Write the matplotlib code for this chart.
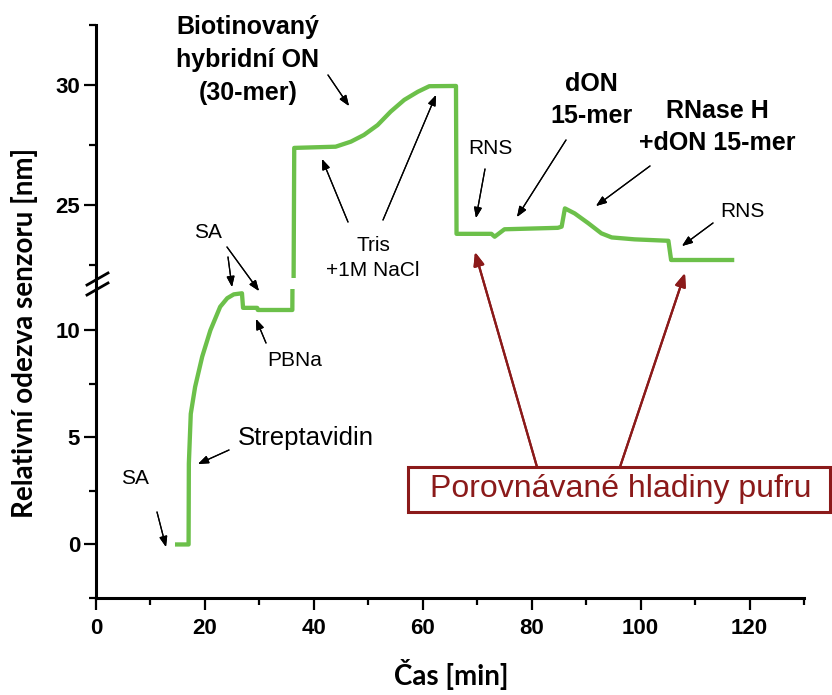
import matplotlib.pyplot as plt
from matplotlib.patches import Rectangle
from matplotlib.lines import Line2D

# sensor response over time (one continuous trace, split by the broken y axis)
cas = [14.9, 17.0, 17.05, 17.4, 18.2, 19.5, 21.0, 22.8, 24.1, 25.3, 26.8, 27.0,
       29.6, 29.7, 36.05, 36.4, 44.0, 46.8, 49.2, 51.7, 54.1, 56.6, 59.1, 61.2, 66.1, 66.2,
       72.6, 73.2, 75.0, 84.8, 85.5, 86.1, 87.9, 90.4, 92.8, 94.7, 98.9, 105.1, 105.6, 116.8]
odezva = [0.0, 0.0, 3.78, 6.1, 7.36, 8.77, 10.0, 11.1, 11.5, 11.68, 11.73, 11.05,
          11.05, 10.95, 10.95, 27.38, 27.43, 27.64, 27.92, 28.33, 28.89, 29.38, 29.72, 29.95, 29.96, 23.8,
          23.8, 23.68, 23.99, 24.05, 24.1, 24.86, 24.65, 24.24, 23.82, 23.65, 23.57, 23.51, 22.71, 22.71]

W, H = 832, 695
green = '#6cc04a'
dred = '#8b1a1a'

def fp(x, y):
    # pixel position (from top-left) -> figure fraction
    return (x / W, 1 - y / H)

fig = plt.figure(figsize=(W / 100, H / 100), dpi=100)
ax_lo = fig.add_axes([96 / W, (H - 598) / H, (804 - 96) / W, (598 - 289) / H])
ax_hi = fig.add_axes([96 / W, (H - 278) / H, (804 - 96) / W, (278 - 25) / H])

for ax in (ax_lo, ax_hi):
    ax.plot(cas, odezva, color=green, lw=3.1, solid_joinstyle='round')
    ax.set_xlim(0, 130)
    for s in ('top', 'right'):
        ax.spines[s].set_visible(False)
    ax.spines['left'].set_linewidth(2.2)
    ax.spines['bottom'].set_linewidth(2.2)
    ax.tick_params(axis='both', which='major', length=8.5, width=1.6, pad=3, labelsize=16)
    ax.tick_params(axis='both', which='minor', length=5, width=1.6)
    ax.set_facecolor('none')

ax_lo.set_ylim(-2.5, 11.93)
ax_lo.set_yticks([0, 5, 10])
ax_lo.set_yticks([-2.5, 2.5, 7.5], minor=True)
ax_lo.set_xticks(range(0, 121, 20))
ax_lo.set_xticks(range(10, 131, 20), minor=True)
ax_lo.tick_params(axis='x', which='major', pad=6)

ax_hi.set_ylim(21.96, 32.5)
ax_hi.set_yticks([25, 30])
ax_hi.set_yticks([22.5, 27.5, 32.5], minor=True)
ax_hi.spines['bottom'].set_visible(False)
ax_hi.tick_params(axis='x', which='both', bottom=False, labelbottom=False)

for ax in (ax_lo, ax_hi):
    for lab in ax.get_yticklabels() + ax.get_xticklabels():
        lab.set_fontfamily('Liberation Sans')
        lab.set_fontweight('bold')

# spine across the break and the // marks
fig.add_artist(Line2D([96 / W, 96 / W], [1 - 278 / H, 1 - 289 / H], color='k', lw=2.2))
for y0 in (285, 295):
    fig.add_artist(Line2D([87 / W, 108 / W], [1 - y0 / H, 1 - (y0 - 12) / H], color='k', lw=2))

fig.text(*fp(451, 675), 'Čas [min]', ha='center', va='center', fontsize=20,
         fontweight='bold', family='Lato')
fig.text(*fp(25, 333), 'Relativní odezva senzoru [nm]', ha='center', va='center',
         rotation=90, fontsize=20, fontweight='bold', family='Lato')

arr = dict(arrowstyle='-|>,head_length=0.45,head_width=0.17', color='k', lw=0.9,
           shrinkA=0, shrinkB=0, mutation_scale=14)

def note(txt, pos, arrows, size=15, bold=False, ls=1.35):
    fig.text(*fp(*pos), txt, ha='center', va='center', fontsize=size,
             family='Liberation Sans', fontweight='bold' if bold else 'normal',
             linespacing=ls, multialignment='center')
    for a, b in arrows:
        fig.add_artist(plt.annotate('', xy=fp(*b), xytext=fp(*a), xycoords='figure fraction',
                                    textcoords='figure fraction', arrowprops=arr))

note('Biotinovaný\nhybridní ON\n(30-mer)', (248, 60), [((328, 75), (349, 106))], size=18, bold=True, ls=1.45)
note('Tris\n+1M NaCl', (373, 258), [((348, 222), (322, 159)), ((383, 220), (436, 95))])
note('SA', (208, 232), [((228, 257), (232, 287)), ((227, 247), (259, 291))])
note('PBNa', (295, 360), [((266, 343), (256, 319))])
note('Streptavidin', (306, 438), [((229, 450), (198, 464))], size=18.5)
note('SA', (135, 478), [((157, 512), (166, 547))])
note('RNS', (490, 148), [((485, 169), (476, 218))])
note('dON\n15-mer', (591, 100), [((566, 140), (517, 217))], size=18, bold=True, ls=1.45)
note('RNase H\n+dON 15-mer', (717, 127), [((650, 166), (596, 206))], size=18, bold=True, ls=1.45)
note('RNS', (742, 212), [((713, 223), (682, 246))])

# compared buffer levels box
x0, y0 = fp(408, 512)
x1, y1 = fp(830, 467)
fig.add_artist(Rectangle((x0, y0), x1 - x0, y1 - y0, transform=fig.transFigure,
                         fill=False, edgecolor=dred, lw=2.2))
fig.text(*fp(621, 489), 'Porovnávané hladiny pufru', ha='center', va='center',
         fontsize=23, color=dred, family='Liberation Sans')
red_arr = dict(arrowstyle='-|>,head_length=0.5,head_width=0.2', color=dred, lw=1.6,
               shrinkA=0, shrinkB=0, mutation_scale=16)
for a, b in (((537, 467), (475, 252)), ((620, 467), (685, 273))):
    fig.add_artist(plt.annotate('', xy=fp(*b), xytext=fp(*a), xycoords='figure fraction',
                                textcoords='figure fraction', arrowprops=red_arr))

fig.savefig('out.png', dpi=100)
